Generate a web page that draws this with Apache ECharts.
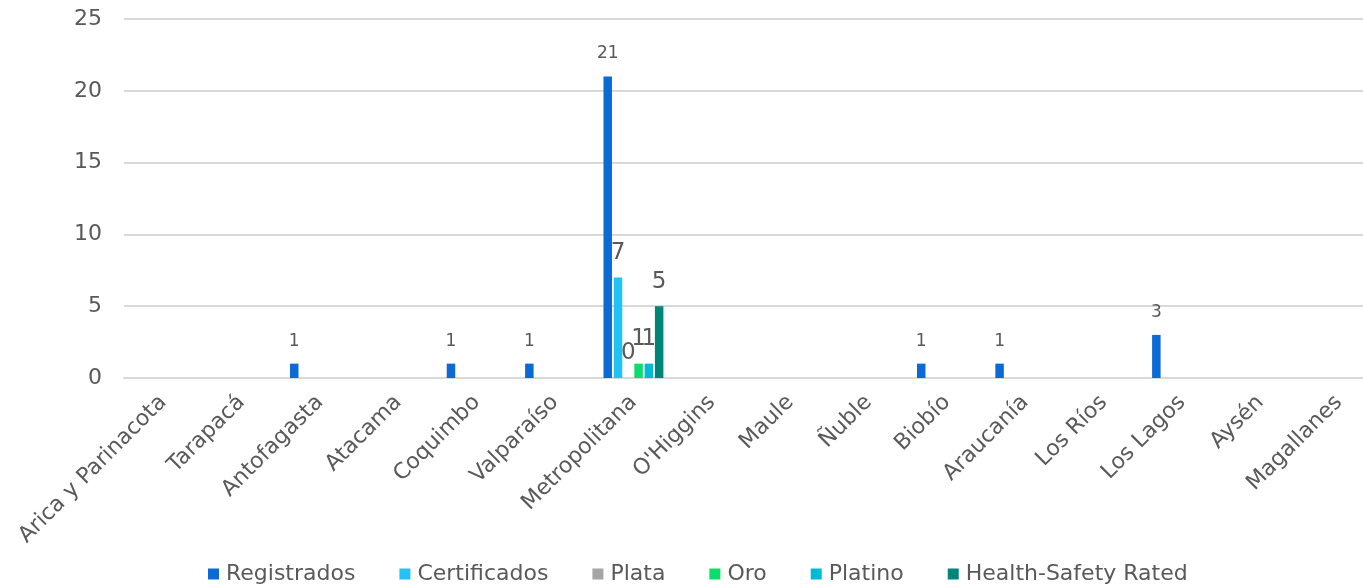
<!DOCTYPE html>
<html>
<head>
    <meta charset="utf-8">
    <title>Regiones</title>
    <script src="https://cdn.jsdelivr.net/npm/echarts@6/dist/echarts.min.js"></script>
    <style type="text/css">
        *{margin: 0;padding: 0;}
        body{background: #fff;overflow: hidden;}
        #main{width: 1363px;height: 588px;}
    </style>
</head>
<body>
<div id="main"></div>
<script type="text/javascript">
    var regiones = ['Arica y Parinacota', 'Tarapacá', 'Antofagasta', 'Atacama', 'Coquimbo', 'Valparaíso',
        'Metropolitana', "O'Higgins", 'Maule', 'Ñuble', 'Biobío', 'Araucanía', 'Los Ríos', 'Los Lagos', 'Aysén', 'Magallanes'];
    var registrados = [null, null, 1, null, 1, 1, 21, null, null, null, 1, 1, null, 3, null, null];
    var certificados = [null, null, null, null, null, null, 7, null, null, null, null, null, null, null, null, null];
    var plata = [null, null, null, null, null, null, 0, null, null, null, null, null, null, null, null, null];
    var oro = [null, null, null, null, null, null, 1, null, null, null, null, null, null, null, null, null];
    var platino = [null, null, null, null, null, null, 1, null, null, null, null, null, null, null, null, null];
    var healthSafety = [null, null, null, null, null, null, 5, null, null, null, null, null, null, null, null, null];

    var fuente = '"DejaVu Sans", sans-serif';
    var gris = '#595959';

    function serie(nombre, datos, color, tamLabel) {
        return {
            name: nombre,
            type: 'bar',
            barWidth: 8.5,
            barGap: '21%',
            data: datos,
            itemStyle: {color: color},
            label: {
                show: true,
                position: 'top',
                distance: tamLabel > 20 ? 13 : 14,
                color: gris,
                fontFamily: fuente,
                fontSize: tamLabel
            }
        };
    }

    var myChart = echarts.init(document.getElementById('main'));
    var option = {
        animation: false,
        grid: {left: 124, width: 1254, top: 19, bottom: 210, outerBoundsMode: 'none'},
        legend: {
            bottom: -2,
            left: 203,
            itemWidth: 11,
            itemHeight: 11,
            itemGap: 44,
            icon: 'rect',
            textStyle: {color: gris, fontFamily: fuente, fontSize: 22, padding: [0, 0, 0, 2]},
            data: ['Registrados', 'Certificados', 'Plata', 'Oro', 'Platino', 'Health-Safety Rated']
        },
        xAxis: {
            type: 'category',
            data: regiones,
            axisLine: {lineStyle: {color: '#d9d9d9', width: 2}},
            axisTick: {show: false},
            axisLabel: {
                interval: 0,
                rotate: 45,
                color: gris,
                fontFamily: fuente,
                fontSize: 22,
                margin: 21
            }
        },
        yAxis: {
            type: 'value',
            min: 0,
            max: 25,
            interval: 5,
            axisLine: {show: false},
            axisTick: {show: false},
            splitLine: {lineStyle: {color: '#d9d9d9', width: 2}},
            axisLabel: {color: gris, fontFamily: fuente, fontSize: 22, margin: 22}
        },
        series: [
            serie('Registrados', registrados, '#0B6AD6', 17),
            serie('Certificados', certificados, '#22C1F6', 23),
            serie('Plata', plata, '#A5A5A5', 23),
            serie('Oro', oro, '#0BDC6A', 23),
            serie('Platino', platino, '#00BBD3', 23),
            serie('Health-Safety Rated', healthSafety, '#00857A', 23)
        ]
    };
    myChart.setOption(option);
</script>
</body>
</html>
